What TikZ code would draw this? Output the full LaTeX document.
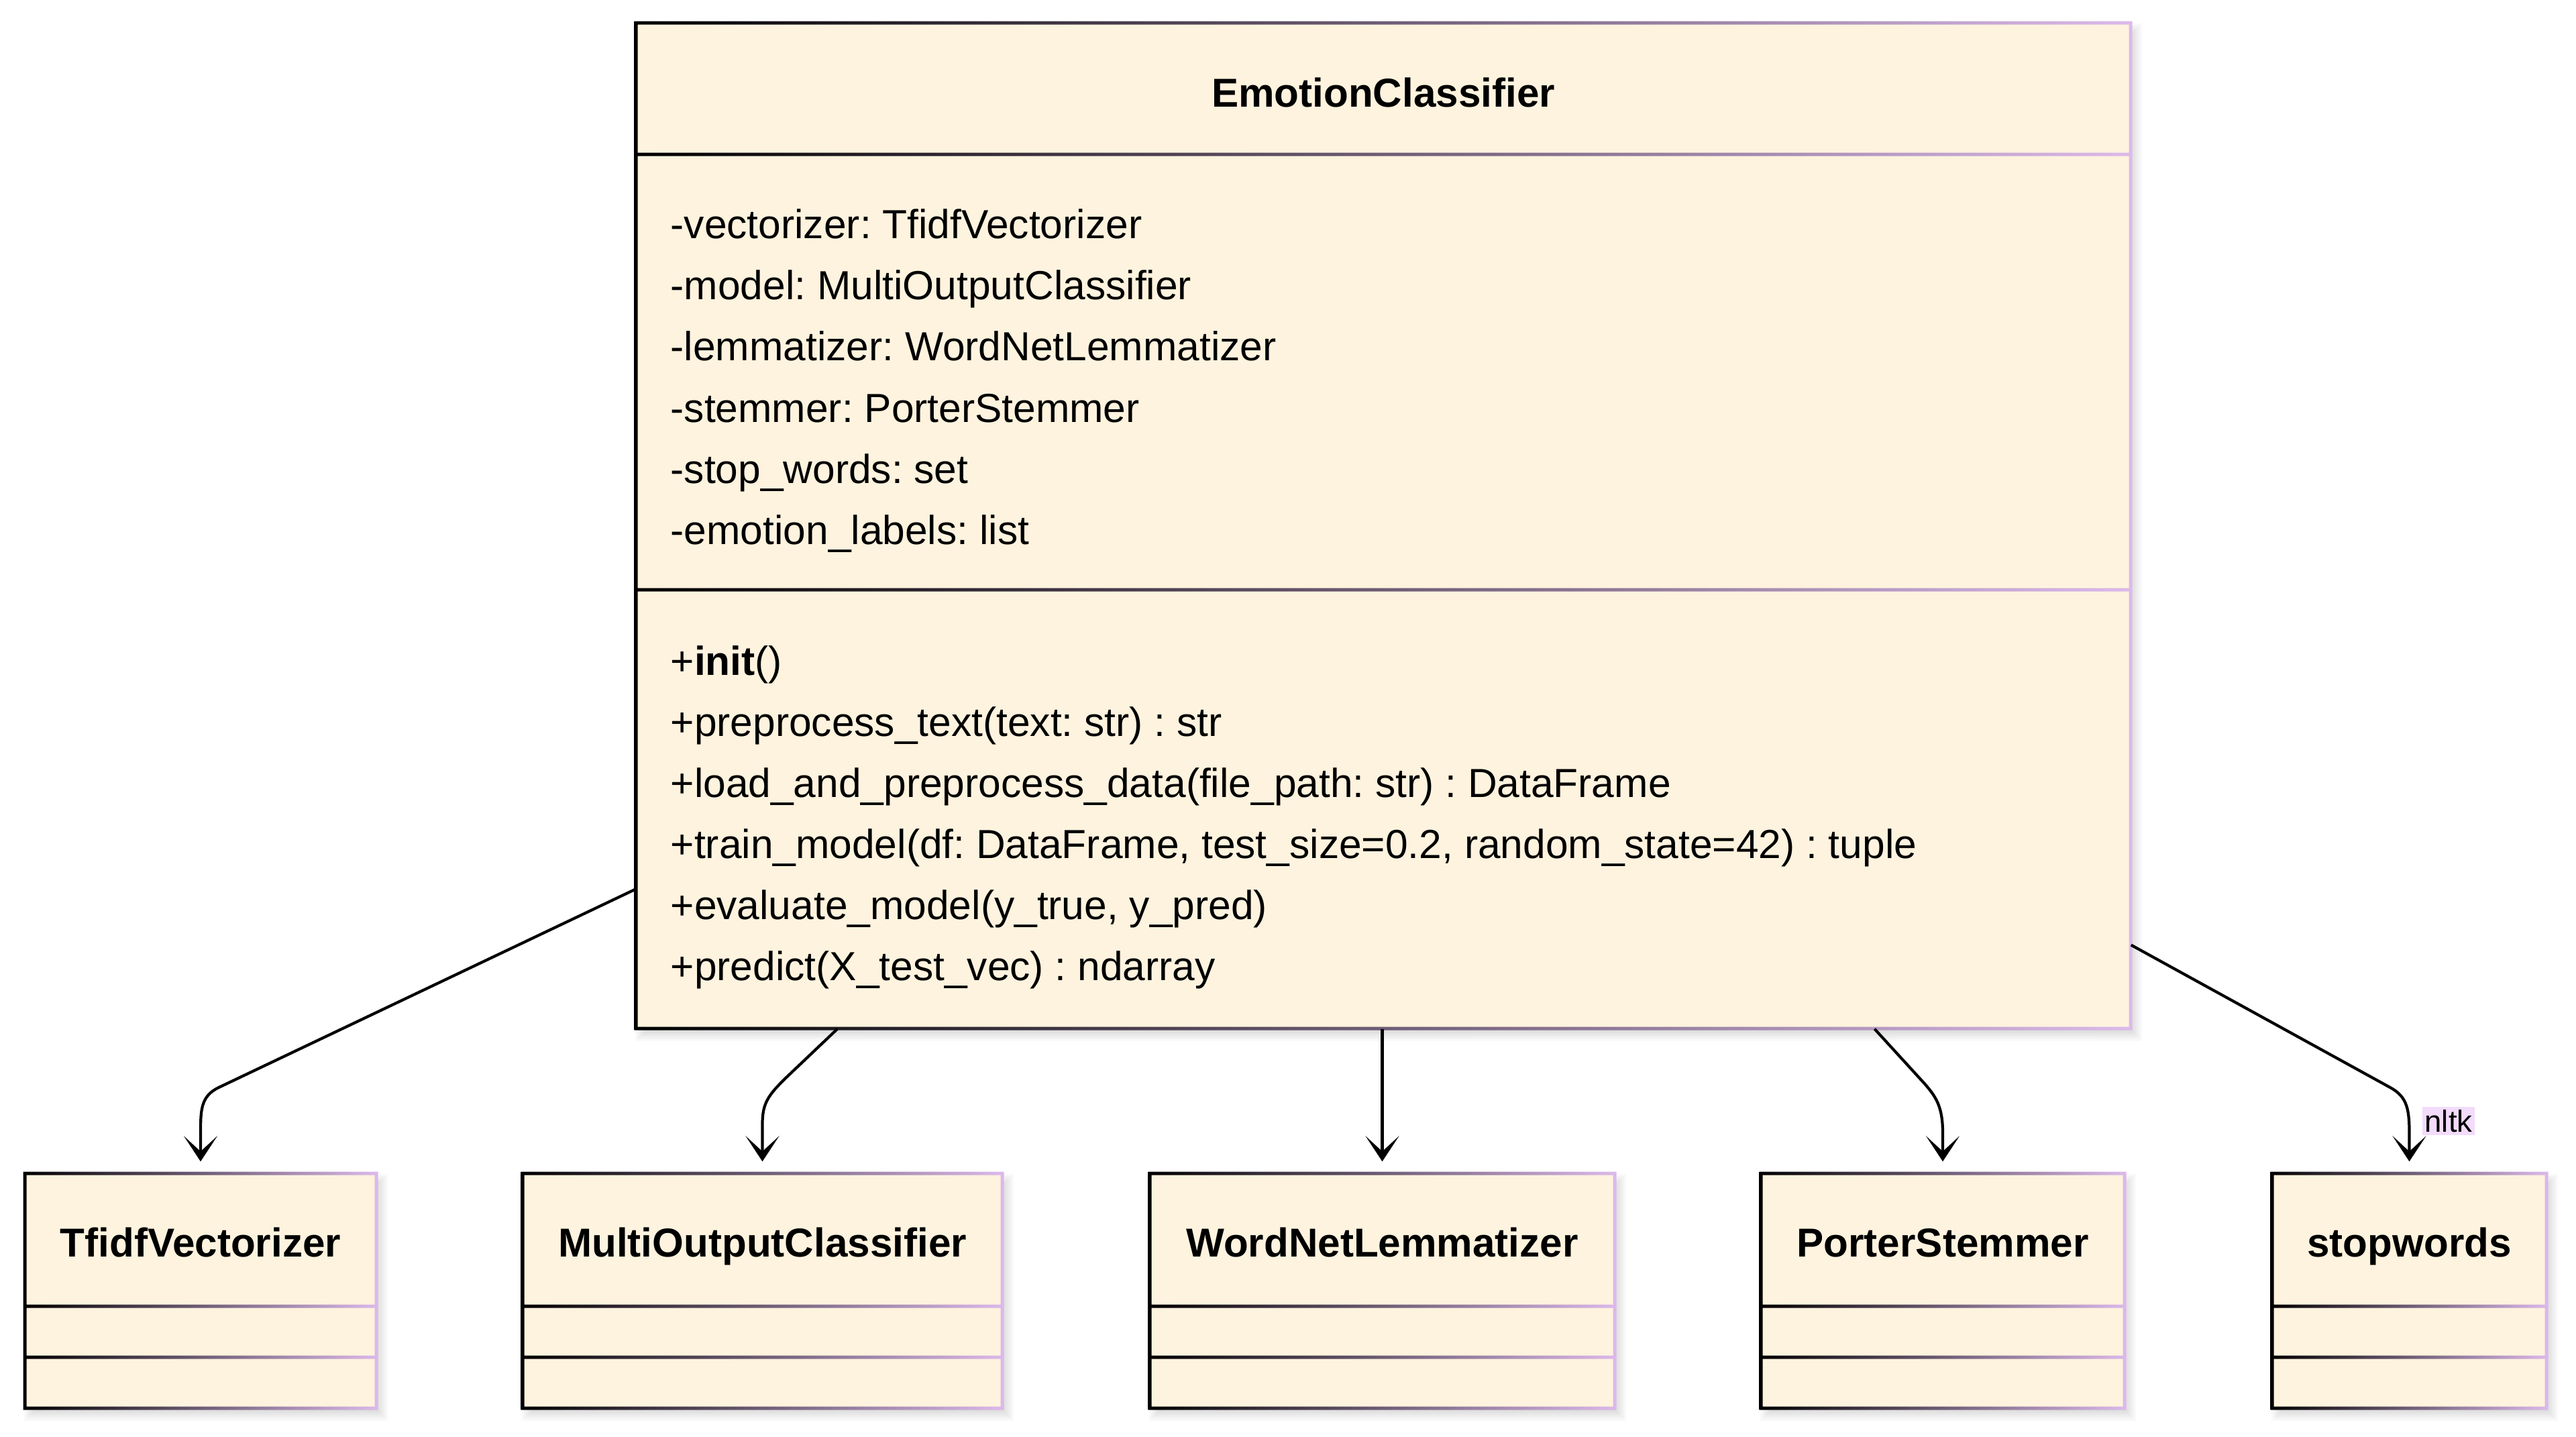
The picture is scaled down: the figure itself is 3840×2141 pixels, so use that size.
\documentclass[tikz,border=0pt]{standalone}
\usepackage{fontspec}
\setmainfont{Liberation Sans}
\usetikzlibrary{arrows.meta,calc,fit}
\definecolor{boxfill}{HTML}{FEF3DE}
\definecolor{lav}{HTML}{DCB9EB}
\definecolor{lblbg}{HTML}{F3DBFC}
\frenchspacing
% #1 x1, #2 y1, #3 x2, #4 y2, #5 divider1, #6 divider2, #7 name
\newcommand{\umlbox}[7]{%
  \foreach \s in {0,3,...,18}{%
    \fill[black,opacity=0.025] (#1-1+\s,#2+1+\s) rectangle (#3+17-\s,#4+19-\s);
  }
  \fill[boxfill] (#1,#2) rectangle (#3,#4);
  \shade[left color=black,right color=lav]
    (#1-2.5,#2-2.5) rectangle (#3+2.5,#4+2.5)
    (#3-2.5,#2+2.5) rectangle (#1+2.5,#4-2.5)
    (#1,#5-2.5) rectangle (#3,#5+2.5)
    (#1,#6-2.5) rectangle (#3,#6+2.5);
  \path (#1,#2) coordinate (#7-nw) (#3,#4) coordinate (#7-se);
  \node[fit=(#7-nw)(#7-se),inner sep=0pt] (#7) {};
}
\tikzset{
  txt/.style={font=\fontsize{17.2}{20}\selectfont,inner sep=0pt,anchor=base west},
  ttl/.style={font=\fontsize{17.12}{20}\selectfont\bfseries,inner sep=0pt,anchor=base},
  dep/.style={draw=black,line width=1.2pt,-{Stealth[length=0.38cm,width=0.5cm,inset=0.23cm]}},
  lbl/.style={fill=lblbg,font=\fontsize{12.97}{15}\selectfont,inner xsep=1pt,inner ysep=1.2pt}
}
\begin{document}
\begin{tikzpicture}[x=0.01cm,y=-0.01cm]
\useasboundingbox (0,0) rectangle (3840,2141);
\fill[white] (0,0) rectangle (3840,2141);

\umlbox{948}{34}{3176}{1533}{230}{879}{main}
\umlbox{37}{1749}{561}{2099}{1947}{2023}{tf}
\umlbox{779}{1749}{1494}{2099}{1947}{2023}{moc}
\umlbox{1714}{1749}{2407}{2099}{1947}{2023}{wn}
\umlbox{2625}{1749}{3167}{2099}{1947}{2023}{ps}
\umlbox{3387}{1749}{3796}{2099}{1947}{2023}{sw}

\node[ttl] (t0) at (2062,159) {EmotionClassifier};
\node[txt] (a1) at (999,355) {-vectorizer: TfidfVectorizer};
\node[txt] (a2) at (999,446) {-model: MultiOutputClassifier};
\node[txt] (a3) at (999,537) {-lemmatizer: WordNetLemmatizer};
\node[txt] (a4) at (999,629) {-stemmer: PorterStemmer};
\node[txt] (a5) at (999,720) {-stop\_words: set};
\node[txt] (a6) at (999,811) {-emotion\_labels: list};

\node[txt] (m1) at (999,1006) {+\textbf{init}()};
\node[txt] (m2) at (999,1097) {+preprocess\_text(text: str) : str};
\node[txt] (m3) at (999,1188) {+load\_and\_preprocess\_data(file\_path: str) : DataFrame};
\node[txt] (m4) at (999,1279) {+train\_model(df: DataFrame, test\_size=0.2, random\_state=42) : tuple};
\node[txt] (m5) at (999,1370) {+evaluate\_model(y\_true, y\_pred)};
\node[txt] (m6) at (999,1461) {+predict(X\_test\_vec) : ndarray};

\node[ttl] (t1) at (299,1873) {TfidfVectorizer};
\node[ttl] (t2) at (1136.5,1873) {MultiOutputClassifier};
\node[ttl] (t3) at (2060.5,1873) {WordNetLemmatizer};
\node[ttl] (t4) at (2896,1873) {PorterStemmer};
\node[ttl] (t5) at (3591.5,1873) {stopwords};

\draw[dep] ($(main.south west)!0.1388!(main.north west)$) -- (326,1621)
  .. controls (299,1634) and (299,1655) .. (299,1690) -- ([yshift=0.17cm]tf.north);
\draw[dep] ($(main.south west)!0.135!(main.south east)$) -- (1169,1609)
  .. controls (1145,1633) and (1136.5,1645) .. (1136.5,1675) -- ([yshift=0.17cm]moc.north);
\draw[dep] (main.south -| wn.north) -- ([yshift=0.17cm]wn.north);
\draw[dep] ($(main.south west)!0.8285!(main.south east)$) -- (2865,1611)
  .. controls (2887,1635) and (2896,1650) .. (2896,1690) -- ([yshift=0.17cm]ps.north);
\draw[dep] ($(main.south east)!0.0834!(main.north east)$) -- (3563,1621)
  .. controls (3589,1635) and (3591.5,1655) .. (3591.5,1690) -- ([yshift=0.17cm]sw.north);
\node[lbl] (nltk) at (3650,1671) {nltk};
\end{tikzpicture}
\end{document}
